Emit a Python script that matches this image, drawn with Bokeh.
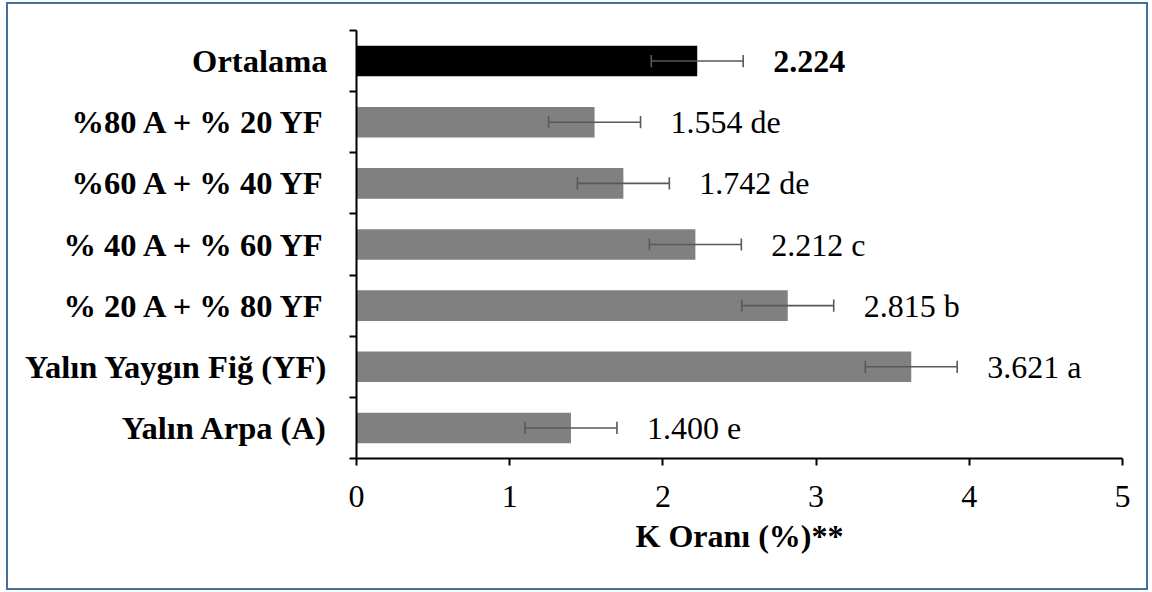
from bokeh.plotting import figure
from bokeh.models import FixedTicker, ColumnDataSource, Range1d
from bokeh.core.properties import value
from bokeh.embed import file_html
from bokeh.resources import INLINE

categories = ["Yalın Arpa (A)", "Yalın Yaygın Fiğ (YF)", "% 20 A + % 80 YF",
              "% 40 A + % 60 YF", "%60 A + % 40 YF", "%80 A + % 20 YF", "Ortalama"]
means = [1.400, 3.621, 2.815, 2.212, 1.742, 1.554, 2.224]
errors = [0.30, 0.30, 0.30, 0.30, 0.30, 0.30, 0.30]
letters = ["e", "a", "b", "c", "de", "de", ""]
bar_colors = ["#808080"] * 6 + ["#000000"]
x_ticks = [0, 1, 2, 3, 4, 5]

FONT = "Times New Roman"
W, H = 1142, 588

ypos = [i + 0.5 for i in range(len(categories))]
labels = [f"{m:.3f} {l}".strip() for m, l in zip(means, letters)]
styles = ["normal"] * 6 + ["bold"]

src = ColumnDataSource(dict(
    y=ypos, m=means, lo=[m - e for m, e in zip(means, errors)],
    hi=[m + e for m, e in zip(means, errors)], c=bar_colors,
    lab=labels, lx=[m + e for m, e in zip(means, errors)], st=styles,
    cap_lo=[y - 0.1 for y in ypos], cap_hi=[y + 0.1 for y in ypos],
))

p = figure(width=W, height=H, output_backend="svg", toolbar_location=None,
           x_range=Range1d(0, 5), y_range=Range1d(0, 7),
           min_border_left=348, min_border_right=28, min_border_top=26,
           min_border_bottom=134)
p.styles = {"border": "2px solid #41719C", "box-sizing": "border-box",
            "margin-left": "6px", "margin-top": "2px"}
p.outline_line_color = None
p.grid.visible = False

p.hbar(y="y", right="m", left=0, height=0.5, fill_color="c", line_color=None, source=src)
p.segment(x0="lo", x1="hi", y0="y", y1="y", line_color="#595959", line_width=1.6, source=src)
p.segment(x0="lo", x1="lo", y0="cap_lo", y1="cap_hi", line_color="#595959", line_width=1.6, source=src)
p.segment(x0="hi", x1="hi", y0="cap_lo", y1="cap_hi", line_color="#595959", line_width=1.6, source=src)
p.text(x="lx", y="y", text="lab", source=src, x_offset=30, text_baseline="middle",
       text_align="left", text_font=value(FONT), text_font_size="32px",
       text_font_style="st", text_color="black")

xa = p.xaxis[0]
xa.ticker = FixedTicker(ticks=x_ticks)
xa.axis_line_color = "black"
xa.axis_line_width = 2
xa.major_tick_in = 0
xa.major_tick_out = 7
xa.major_tick_line_width = 2
xa.minor_tick_line_color = None
xa.major_label_text_font = FONT
xa.major_label_text_font_size = "32px"
xa.major_label_text_color = "black"
xa.major_label_standoff = 20
xa.axis_label = "K Oranı (%)**"
xa.axis_label_text_font = FONT
xa.axis_label_text_font_size = "32px"
xa.axis_label_text_font_style = "bold"
xa.axis_label_text_color = "black"
xa.axis_label_standoff = 8

ya = p.yaxis[0]
ya.ticker = FixedTicker(ticks=ypos, minor_ticks=list(range(len(categories) + 1)))
ya.major_label_overrides = {y: c for y, c in zip(ypos, categories)}
ya.axis_line_color = "black"
ya.axis_line_width = 2
ya.major_tick_line_color = None
ya.minor_tick_in = 0
ya.minor_tick_out = 7
ya.minor_tick_line_width = 2
ya.minor_tick_line_color = "black"
ya.major_label_text_font = FONT
ya.major_label_text_font_size = "32.5px"
ya.major_label_text_font_style = "bold"
ya.major_label_text_color = "black"
ya.major_label_standoff = 22

open("out.html", "w").write(file_html(p, INLINE))
